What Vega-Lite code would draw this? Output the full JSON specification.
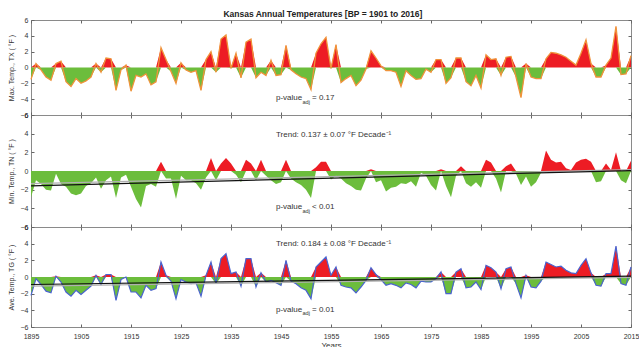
{
  "$schema": "https://vega.github.io/schema/vega-lite/v6.json",
  "autosize": {"type": "pad"},
  "padding": {"left": 6, "top": 10, "right": 0, "bottom": 0},
  "title": {"text": "Kansas Annual Temperatures [BP = 1901 to 2016]", "fontSize": 8.5, "fontWeight": "bold", "font": "Liberation Sans", "offset": -3, "color": "#222", "anchor": "middle"},
  "spacing": 0,
  "bounds": "flush",
  "config": {
    "view": {"stroke": "#8a8a8a", "strokeWidth": 1},
    "axis": {"labelFont": "Liberation Sans", "titleFont": "Liberation Sans", "labelColor": "#333", "titleColor": "#333", "tickColor": "#666", "labelFontSize": 7, "titleFontSize": 7, "titleFontWeight": "normal", "grid": false, "domain": false},
    "axisLeft": {"minExtent": 12, "maxExtent": 12}
  },
  "datasets": {
    "annual": [
      {"year":1895,"tx":-1.5,"tn":-2.8,"tg":-2.2},{"year":1896,"tx":0.5,"tn":-1.0,"tg":-0.2},{"year":1897,"tx":-0.3,"tn":-1.4,"tg":-0.9},{"year":1898,"tx":-1.2,"tn":-2.0,"tg":-1.7},{"year":1899,"tx":-1.6,"tn":-2.1,"tg":-1.9},
      {"year":1900,"tx":0.5,"tn":-0.3,"tg":0.1},{"year":1901,"tx":0.8,"tn":-1.4,"tg":-0.6},{"year":1902,"tx":-1.8,"tn":-1.7,"tg":-1.8},{"year":1903,"tx":-2.4,"tn":-2.4,"tg":-2.3},{"year":1904,"tx":-1.4,"tn":-2.6,"tg":-1.6},
      {"year":1905,"tx":-2.0,"tn":-2.4,"tg":-2.1},{"year":1906,"tx":-1.7,"tn":-1.6,"tg":-1.6},{"year":1907,"tx":-1.2,"tn":-1.3,"tg":-1.1},{"year":1908,"tx":0.5,"tn":-0.7,"tg":0.2},{"year":1909,"tx":-0.6,"tn":-1.9,"tg":-0.9},
      {"year":1910,"tx":1.2,"tn":-1.0,"tg":0.3},{"year":1911,"tx":1.1,"tn":-0.6,"tg":0.3},{"year":1912,"tx":-2.9,"tn":-2.9,"tg":-2.8},{"year":1913,"tx":-0.3,"tn":-0.7,"tg":-0.3},{"year":1914,"tx":0.3,"tn":-0.4,"tg":0.0},
      {"year":1915,"tx":-3.0,"tn":-1.7,"tg":-1.8},{"year":1916,"tx":-1.0,"tn":-3.0,"tg":-1.8},{"year":1917,"tx":-1.2,"tn":-3.9,"tg":-2.5},{"year":1918,"tx":-0.8,"tn":-1.6,"tg":-1.0},{"year":1919,"tx":-2.2,"tn":-1.4,"tg":-1.6},
      {"year":1920,"tx":-1.8,"tn":-1.7,"tg":-1.4},{"year":1921,"tx":2.5,"tn":1.0,"tg":1.8},{"year":1922,"tx":1.0,"tn":-0.8,"tg":0.2},{"year":1923,"tx":-0.5,"tn":-0.8,"tg":-0.5},{"year":1924,"tx":-2.0,"tn":-3.0,"tg":-2.6},
      {"year":1925,"tx":0.6,"tn":-0.5,"tg":-0.3},{"year":1926,"tx":-0.3,"tn":-1.0,"tg":-0.6},{"year":1927,"tx":-0.6,"tn":-1.0,"tg":-0.8},{"year":1928,"tx":-0.4,"tn":-1.3,"tg":-0.7},{"year":1929,"tx":-2.9,"tn":-2.0,"tg":-2.3},
      {"year":1930,"tx":1.0,"tn":-0.7,"tg":0.2},{"year":1931,"tx":2.0,"tn":1.4,"tg":1.8},{"year":1932,"tx":-0.6,"tn":-1.0,"tg":-0.8},{"year":1933,"tx":3.6,"tn":0.8,"tg":2.2},{"year":1934,"tx":4.1,"tn":1.4,"tg":2.8},
      {"year":1935,"tx":-0.1,"tn":0.8,"tg":0.4},{"year":1936,"tx":1.8,"tn":-0.4,"tg":0.6},{"year":1937,"tx":-1.3,"tn":-1.2,"tg":-1.1},{"year":1938,"tx":3.2,"tn":1.2,"tg":2.2},{"year":1939,"tx":3.6,"tn":0.8,"tg":2.2},
      {"year":1940,"tx":-1.3,"tn":-1.0,"tg":-1.2},{"year":1941,"tx":-0.6,"tn":1.2,"tg":0.5},{"year":1942,"tx":-1.0,"tn":-0.5,"tg":-0.6},{"year":1943,"tx":0.9,"tn":-1.0,"tg":-0.4},{"year":1944,"tx":-1.0,"tn":-1.4,"tg":-0.7},
      {"year":1945,"tx":-0.9,"tn":-1.2,"tg":-1.0},{"year":1946,"tx":2.8,"tn":1.2,"tg":2.0},{"year":1947,"tx":-0.3,"tn":-0.8,"tg":-0.5},{"year":1948,"tx":-0.8,"tn":-1.2,"tg":-0.8},{"year":1949,"tx":-1.2,"tn":-1.5,"tg":-1.3},
      {"year":1950,"tx":-1.4,"tn":-2.0,"tg":-1.6},{"year":1951,"tx":-2.8,"tn":-2.9,"tg":-2.6},{"year":1952,"tx":1.8,"tn":0.4,"tg":1.2},{"year":1953,"tx":3.0,"tn":1.0,"tg":1.8},{"year":1954,"tx":3.8,"tn":1.0,"tg":2.4},
      {"year":1955,"tx":-0.1,"tn":-0.9,"tg":0.2},{"year":1956,"tx":2.9,"tn":-0.5,"tg":1.2},{"year":1957,"tx":-1.9,"tn":-0.8,"tg":-1.0},{"year":1958,"tx":-1.4,"tn":-1.3,"tg":-1.2},{"year":1959,"tx":-1.0,"tn":-1.6,"tg":-1.3},
      {"year":1960,"tx":-2.3,"tn":-2.0,"tg":-1.9},{"year":1961,"tx":-1.6,"tn":-2.1,"tg":-1.2},{"year":1962,"tx":-0.2,"tn":-0.8,"tg":-0.4},{"year":1963,"tx":2.1,"tn":0.2,"tg":1.1},{"year":1964,"tx":1.2,"tn":-1.2,"tg":0.3},
      {"year":1965,"tx":0.2,"tn":-1.0,"tg":-0.3},{"year":1966,"tx":-0.4,"tn":-2.2,"tg":-1.0},{"year":1967,"tx":-0.4,"tn":-1.8,"tg":-0.8},{"year":1968,"tx":-0.6,"tn":-1.7,"tg":-1.0},{"year":1969,"tx":-2.4,"tn":-1.3,"tg":-1.3},
      {"year":1970,"tx":-0.4,"tn":-1.4,"tg":-0.7},{"year":1971,"tx":-1.0,"tn":-1.1,"tg":-0.9},{"year":1972,"tx":-1.5,"tn":-1.7,"tg":-1.3},{"year":1973,"tx":-1.4,"tn":-0.2,"tg":-0.5},{"year":1974,"tx":-0.2,"tn":-0.5,"tg":-0.6},
      {"year":1975,"tx":-0.6,"tn":-1.5,"tg":-0.6},{"year":1976,"tx":1.0,"tn":-2.1,"tg":-0.2},{"year":1977,"tx":1.0,"tn":0.2,"tg":0.6},{"year":1978,"tx":-2.0,"tn":-1.6,"tg":-2.0},{"year":1979,"tx":-1.3,"tn":-2.8,"tg":-2.0},
      {"year":1980,"tx":1.2,"tn":-0.5,"tg":0.6},{"year":1981,"tx":1.2,"tn":0.5,"tg":1.0},{"year":1982,"tx":-1.8,"tn":-1.3,"tg":-1.3},{"year":1983,"tx":-2.3,"tn":-1.7,"tg":-1.2},{"year":1984,"tx":-1.0,"tn":-1.2,"tg":-0.6},
      {"year":1985,"tx":-2.6,"tn":-1.8,"tg":-1.5},{"year":1986,"tx":1.6,"tn":1.2,"tg":1.4},{"year":1987,"tx":1.0,"tn":0.9,"tg":1.1},{"year":1988,"tx":1.1,"tn":-0.8,"tg":0.6},{"year":1989,"tx":-1.0,"tn":-2.3,"tg":-1.4},
      {"year":1990,"tx":1.3,"tn":0.5,"tg":1.0},{"year":1991,"tx":1.4,"tn":0.8,"tg":1.2},{"year":1992,"tx":-1.2,"tn":-0.3,"tg":-0.8},{"year":1993,"tx":-3.8,"tn":-1.5,"tg":-2.5},{"year":1994,"tx":0.5,"tn":-0.6,"tg":0.2},
      {"year":1995,"tx":-1.2,"tn":-1.7,"tg":-1.2},{"year":1996,"tx":-1.4,"tn":-1.2,"tg":-1.3},{"year":1997,"tx":-1.4,"tn":-0.2,"tg":-0.5},{"year":1998,"tx":1.1,"tn":2.2,"tg":1.8},{"year":1999,"tx":1.9,"tn":1.2,"tg":1.5},
      {"year":2000,"tx":1.8,"tn":0.9,"tg":1.2},{"year":2001,"tx":1.6,"tn":1.0,"tg":1.3},{"year":2002,"tx":1.3,"tn":0.3,"tg":0.8},{"year":2003,"tx":0.8,"tn":0.1,"tg":0.5},{"year":2004,"tx":0.3,"tn":0.9,"tg":0.4},
      {"year":2005,"tx":1.8,"tn":1.2,"tg":1.4},{"year":2006,"tx":3.5,"tn":1.3,"tg":2.2},{"year":2007,"tx":0.5,"tn":1.0,"tg":0.5},{"year":2008,"tx":-1.2,"tn":-1.2,"tg":-1.0},{"year":2009,"tx":-1.2,"tn":-1.1,"tg":-1.1},
      {"year":2010,"tx":0.3,"tn":0.8,"tg":0.4},{"year":2011,"tx":1.2,"tn":0.1,"tg":0.4},{"year":2012,"tx":5.2,"tn":2.0,"tg":3.7},{"year":2013,"tx":-0.9,"tn":-1.0,"tg":-0.8},{"year":2014,"tx":-0.8,"tn":-1.3,"tg":-1.0},
      {"year":2015,"tx":1.5,"tn":1.1,"tg":1.2}
    ],
    "tnTrend": [{"year":1895,"v":-1.6},{"year":2015,"v":0.05}],
    "tnGray": [{"year":1895,"v":-1.35},{"year":2015,"v":0.15}],
    "tgTrend": [{"year":1895,"v":-0.9},{"year":2015,"v":0.1}],
    "tgGray": [{"year":1895,"v":-1.1},{"year":2015,"v":-0.05}],
    "note": [{"k": 1}]
  },
  "vconcat": [
    {
      "width": 600, "height": 95,
      "data": {"name": "annual"},
      "resolve": {"scale": {"y": "independent"}, "axis": {"x": "independent", "y": "independent"}},
      "layer": [
        {"mark": {"type": "area", "color": "#ed1c24"},
         "encoding": {
           "x": {"field": "year", "type": "quantitative", "scale": {"domain": [1895, 2015], "nice": false, "zero": false}, "axis": null},
           "y": {"field": "tx", "type": "quantitative", "scale": {"domain": [0, 6], "range": [47.5, 0], "clamp": true, "nice": false}, "axis": null},
           "y2": {"datum": 0}}},
        {"mark": {"type": "area", "color": "#6cbd3c"},
         "encoding": {
           "x": {"field": "year", "type": "quantitative", "scale": {"domain": [1895, 2015], "nice": false, "zero": false}, "axis": null},
           "y": {"field": "tx", "type": "quantitative", "scale": {"domain": [-6, 0], "range": [95, 47.5], "clamp": true, "nice": false}, "axis": null},
           "y2": {"datum": 0}}},
        {"mark": {"type": "line", "color": "#f0923a", "strokeWidth": 1.3},
         "encoding": {
           "x": {"field": "year", "type": "quantitative", "scale": {"domain": [1895, 2015], "nice": false, "zero": false},
                 "axis": {"orient": "bottom", "values": [1895,1905,1915,1925,1935,1945,1955,1965,1975,1985,1995,2005,2015], "labels": false, "tickSize": -3, "title": null}},
           "y": {"field": "tx", "type": "quantitative", "scale": {"domain": [-6, 6], "nice": false},
                 "axis": {"orient": "left", "values": [-6,-4,-2,0,2,4,6], "tickSize": -3, "labelPadding": 6, "title": "Max. Temp., TX ( °F )", "titlePadding": 5}}}},
        {"data": {"name": "note"},
         "mark": {"type": "text", "align": "left", "baseline": "middle", "fontSize": 8, "font": "Liberation Sans", "color": "#333"},
         "encoding": {
           "x": {"datum": 1944, "type": "quantitative", "scale": {"domain": [1895, 2015], "nice": false, "zero": false},
                 "axis": {"orient": "top", "values": [1895,1905,1915,1925,1935,1945,1955,1965,1975,1985,1995,2005,2015], "labels": false, "tickSize": -3, "title": null}},
           "y": {"datum": -3.9, "type": "quantitative", "scale": {"domain": [-6, 6], "nice": false},
                 "axis": {"orient": "right", "values": [-6,-4,-2,0,2,4,6], "labels": false, "tickSize": -3, "title": null}},
           "text": {"value": "p-value"}}},
        {"data": {"name": "note"},
         "mark": {"type": "text", "align": "left", "baseline": "middle", "fontSize": 5.6, "font": "Liberation Sans", "color": "#333"},
         "encoding": {
           "x": {"datum": 1949.3, "type": "quantitative", "scale": {"domain": [1895, 2015], "nice": false, "zero": false}, "axis": null},
           "y": {"datum": -4.4, "type": "quantitative", "scale": {"domain": [-6, 6], "nice": false}, "axis": null},
           "text": {"value": "adj"}}},
        {"data": {"name": "note"},
         "mark": {"type": "text", "align": "left", "baseline": "middle", "fontSize": 8, "font": "Liberation Sans", "color": "#333"},
         "encoding": {
           "x": {"datum": 1951.2, "type": "quantitative", "scale": {"domain": [1895, 2015], "nice": false, "zero": false}, "axis": null},
           "y": {"datum": -3.9, "type": "quantitative", "scale": {"domain": [-6, 6], "nice": false}, "axis": null},
           "text": {"value": "= 0.17"}}}
      ]
    },
    {
      "width": 600, "height": 112,
      "data": {"name": "annual"},
      "resolve": {"scale": {"y": "independent"}, "axis": {"x": "independent", "y": "independent"}},
      "layer": [
        {"mark": {"type": "area", "color": "#ed1c24"},
         "encoding": {
           "x": {"field": "year", "type": "quantitative", "scale": {"domain": [1895, 2015], "nice": false, "zero": false}, "axis": null},
           "y": {"field": "tn", "type": "quantitative", "scale": {"domain": [0, 6], "range": [56, 0], "clamp": true, "nice": false}, "axis": null},
           "y2": {"datum": 0}}},
        {"mark": {"type": "area", "color": "#6cbd3c"},
         "encoding": {
           "x": {"field": "year", "type": "quantitative", "scale": {"domain": [1895, 2015], "nice": false, "zero": false}, "axis": null},
           "y": {"field": "tn", "type": "quantitative", "scale": {"domain": [-6, 0], "range": [112, 56], "clamp": true, "nice": false}, "axis": null},
           "y2": {"datum": 0}}},
        {"data": {"name": "tnGray"},
         "mark": {"type": "line", "color": "#b0b0b0", "strokeWidth": 1.2},
         "encoding": {
           "x": {"field": "year", "type": "quantitative", "scale": {"domain": [1895, 2015], "nice": false, "zero": false}, "axis": null},
           "y": {"field": "v", "type": "quantitative", "scale": {"domain": [-6, 6], "nice": false}, "axis": null}}},
        {"data": {"name": "tnTrend"},
         "mark": {"type": "line", "color": "#111", "strokeWidth": 1.2},
         "encoding": {
           "x": {"field": "year", "type": "quantitative", "scale": {"domain": [1895, 2015], "nice": false, "zero": false},
                 "axis": {"orient": "bottom", "values": [1895,1905,1915,1925,1935,1945,1955,1965,1975,1985,1995,2005,2015], "labels": false, "tickSize": -3, "title": null}},
           "y": {"field": "v", "type": "quantitative", "scale": {"domain": [-6, 6], "nice": false},
                 "axis": {"orient": "left", "values": [-6,-4,-2,0,2,4,6], "tickSize": -3, "labelPadding": 6, "title": "Min. Temp., TN ( °F )", "titlePadding": 5}}}},
        {"data": {"name": "note"},
         "mark": {"type": "text", "align": "left", "baseline": "middle", "fontSize": 8, "font": "Liberation Sans", "color": "#333"},
         "encoding": {
           "x": {"datum": 1944, "type": "quantitative", "scale": {"domain": [1895, 2015], "nice": false, "zero": false},
                 "axis": {"orient": "top", "values": [1895,1905,1915,1925,1935,1945,1955,1965,1975,1985,1995,2005,2015], "labels": false, "tickSize": -3, "title": null}},
           "y": {"datum": 3.9, "type": "quantitative", "scale": {"domain": [-6, 6], "nice": false},
                 "axis": {"orient": "right", "values": [-6,-4,-2,0,2,4,6], "labels": false, "tickSize": -3, "title": null}},
           "text": {"value": "Trend: 0.137 ± 0.07 °F Decade⁻¹"}}},
        {"data": {"name": "note"},
         "mark": {"type": "text", "align": "left", "baseline": "middle", "fontSize": 8, "font": "Liberation Sans", "color": "#333"},
         "encoding": {
           "x": {"datum": 1944, "type": "quantitative", "scale": {"domain": [1895, 2015], "nice": false, "zero": false}, "axis": null},
           "y": {"datum": -3.9, "type": "quantitative", "scale": {"domain": [-6, 6], "nice": false}, "axis": null},
           "text": {"value": "p-value"}}},
        {"data": {"name": "note"},
         "mark": {"type": "text", "align": "left", "baseline": "middle", "fontSize": 5.6, "font": "Liberation Sans", "color": "#333"},
         "encoding": {
           "x": {"datum": 1949.3, "type": "quantitative", "scale": {"domain": [1895, 2015], "nice": false, "zero": false}, "axis": null},
           "y": {"datum": -4.33, "type": "quantitative", "scale": {"domain": [-6, 6], "nice": false}, "axis": null},
           "text": {"value": "adj"}}},
        {"data": {"name": "note"},
         "mark": {"type": "text", "align": "left", "baseline": "middle", "fontSize": 8, "font": "Liberation Sans", "color": "#333"},
         "encoding": {
           "x": {"datum": 1951.2, "type": "quantitative", "scale": {"domain": [1895, 2015], "nice": false, "zero": false}, "axis": null},
           "y": {"datum": -3.9, "type": "quantitative", "scale": {"domain": [-6, 6], "nice": false}, "axis": null},
           "text": {"value": "< 0.01"}}}
      ]
    },
    {
      "width": 600, "height": 100,
      "data": {"name": "annual"},
      "resolve": {"scale": {"y": "independent"}, "axis": {"x": "independent", "y": "independent"}},
      "layer": [
        {"mark": {"type": "area", "color": "#ed1c24"},
         "encoding": {
           "x": {"field": "year", "type": "quantitative", "scale": {"domain": [1895, 2015], "nice": false, "zero": false}, "axis": null},
           "y": {"field": "tg", "type": "quantitative", "scale": {"domain": [0, 6], "range": [50, 0], "clamp": true, "nice": false}, "axis": null},
           "y2": {"datum": 0}}},
        {"mark": {"type": "area", "color": "#6cbd3c"},
         "encoding": {
           "x": {"field": "year", "type": "quantitative", "scale": {"domain": [1895, 2015], "nice": false, "zero": false}, "axis": null},
           "y": {"field": "tg", "type": "quantitative", "scale": {"domain": [-6, 0], "range": [100, 50], "clamp": true, "nice": false}, "axis": null},
           "y2": {"datum": 0}}},
        {"mark": {"type": "line", "color": "#4a63cf", "strokeWidth": 1.2},
         "encoding": {
           "x": {"field": "year", "type": "quantitative", "scale": {"domain": [1895, 2015], "nice": false, "zero": false},
                 "axis": {"orient": "bottom", "values": [1895,1905,1915,1925,1935,1945,1955,1965,1975,1985,1995,2005,2015], "format": "d", "labels": true, "labelPadding": 8, "labelFlush": false, "tickSize": -3, "title": "Years", "titlePadding": 2, "titleFontSize": 8}},
           "y": {"field": "tg", "type": "quantitative", "scale": {"domain": [-6, 6], "nice": false},
                 "axis": {"orient": "left", "values": [-6,-4,-2,0,2,4,6], "tickSize": -3, "labelPadding": 6, "title": "Ave. Temp., TG ( °F )", "titlePadding": 5}}}},
        {"data": {"name": "tgGray"},
         "mark": {"type": "line", "color": "#b0b0b0", "strokeWidth": 1.2},
         "encoding": {
           "x": {"field": "year", "type": "quantitative", "scale": {"domain": [1895, 2015], "nice": false, "zero": false}, "axis": null},
           "y": {"field": "v", "type": "quantitative", "scale": {"domain": [-6, 6], "nice": false}, "axis": null}}},
        {"data": {"name": "tgTrend"},
         "mark": {"type": "line", "color": "#111", "strokeWidth": 1.2},
         "encoding": {
           "x": {"field": "year", "type": "quantitative", "scale": {"domain": [1895, 2015], "nice": false, "zero": false}, "axis": null},
           "y": {"field": "v", "type": "quantitative", "scale": {"domain": [-6, 6], "nice": false}, "axis": null}}},
        {"data": {"name": "note"},
         "mark": {"type": "text", "align": "left", "baseline": "middle", "fontSize": 8, "font": "Liberation Sans", "color": "#333"},
         "encoding": {
           "x": {"datum": 1944, "type": "quantitative", "scale": {"domain": [1895, 2015], "nice": false, "zero": false},
                 "axis": {"orient": "top", "values": [1895,1905,1915,1925,1935,1945,1955,1965,1975,1985,1995,2005,2015], "labels": false, "tickSize": -3, "title": null}},
           "y": {"datum": 4.0, "type": "quantitative", "scale": {"domain": [-6, 6], "nice": false},
                 "axis": {"orient": "right", "values": [-6,-4,-2,0,2,4,6], "labels": false, "tickSize": -3, "title": null}},
           "text": {"value": "Trend: 0.184 ± 0.08 °F Decade⁻¹"}}},
        {"data": {"name": "note"},
         "mark": {"type": "text", "align": "left", "baseline": "middle", "fontSize": 8, "font": "Liberation Sans", "color": "#333"},
         "encoding": {
           "x": {"datum": 1944, "type": "quantitative", "scale": {"domain": [1895, 2015], "nice": false, "zero": false}, "axis": null},
           "y": {"datum": -3.9, "type": "quantitative", "scale": {"domain": [-6, 6], "nice": false}, "axis": null},
           "text": {"value": "p-value"}}},
        {"data": {"name": "note"},
         "mark": {"type": "text", "align": "left", "baseline": "middle", "fontSize": 5.6, "font": "Liberation Sans", "color": "#333"},
         "encoding": {
           "x": {"datum": 1949.3, "type": "quantitative", "scale": {"domain": [1895, 2015], "nice": false, "zero": false}, "axis": null},
           "y": {"datum": -4.37, "type": "quantitative", "scale": {"domain": [-6, 6], "nice": false}, "axis": null},
           "text": {"value": "adj"}}},
        {"data": {"name": "note"},
         "mark": {"type": "text", "align": "left", "baseline": "middle", "fontSize": 8, "font": "Liberation Sans", "color": "#333"},
         "encoding": {
           "x": {"datum": 1951.2, "type": "quantitative", "scale": {"domain": [1895, 2015], "nice": false, "zero": false}, "axis": null},
           "y": {"datum": -3.9, "type": "quantitative", "scale": {"domain": [-6, 6], "nice": false}, "axis": null},
           "text": {"value": "= 0.01"}}}
      ]
    }
  ]
}
